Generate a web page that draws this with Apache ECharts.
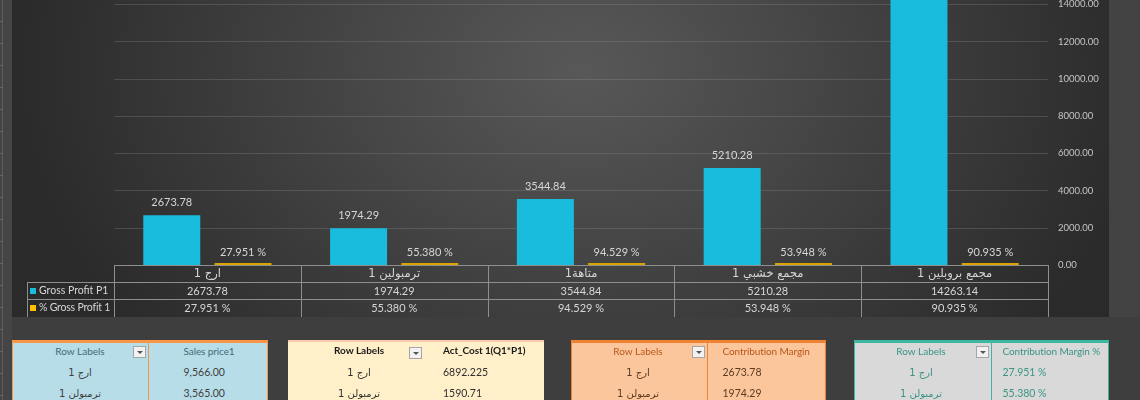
<!DOCTYPE html>
<html>
<head>
<meta charset="utf-8">
<script src="https://cdn.jsdelivr.net/npm/echarts@6/dist/echarts.min.js"></script>
<style>
body{margin:0;width:1140px;height:400px;background:#3e3e3e;overflow:hidden;position:relative;font-family:Lato,"DejaVu Sans",sans-serif}
#strip{position:absolute;left:0;top:0;width:12px;height:400px;background:#454545}
#strip .ln{position:absolute;left:2px;top:0;width:1px;height:400px;background:#5e5e5e}
#strip .tk{position:absolute;left:0;top:0;width:3px;height:400px;background:repeating-linear-gradient(to bottom,transparent 0,transparent 21px,#666 21px,#666 22px)}
#rside{position:absolute;left:1109px;top:0;width:31px;height:317px;background:#434343}
#plotbg{position:absolute;left:12px;top:0;width:1097px;height:317px;
  background:radial-gradient(ellipse 570px 430px at 570px 70px,#585858 0%,#464646 40%,#2a2a2a 100%)}
#main{position:absolute;left:0;top:0;width:1140px;height:400px}
.hl{position:absolute;height:1px;background:#8e8e8e;z-index:5}
.vl{position:absolute;width:1px;background:#8e8e8e;z-index:5}
.cell{position:absolute;height:17px;line-height:17px;text-align:center;color:#d6d6d6;font-size:11px;z-index:6;white-space:nowrap}
.key{position:absolute;width:6px;height:6px;z-index:6}
.pv{position:absolute;overflow:hidden;z-index:6;font-size:10px}
.pv .t{position:absolute;white-space:nowrap;line-height:21px;height:21px}
.dd{position:absolute;width:13px;height:12px;background:#f2f2f2;border:1px solid #a6a6a6;box-sizing:border-box}
.dd:after{content:"";position:absolute;left:3px;top:4px;border-left:3px solid transparent;border-right:3px solid transparent;border-top:3px solid #555}
</style>
</head>
<body>
<div id="strip"><div class="ln"></div><div class="tk"></div></div>
<div id="plotbg"></div>
<div id="rside"></div>
<div id="main"></div>
<script>
// chart data
var categories = ['ارج 1', 'ترمبولين 1', 'متاهة1', 'مجمع خشبي 1', 'مجمع بروبلين 1'];
var grossProfit = [2673.78, 1974.29, 3544.84, 5210.28, 14263.14];
var grossPct = [0.27951, 0.55380, 0.94529, 0.53948, 0.90935];
var seriesNames = ['Gross Profit P1', '% Gross Profit 1'];
var seriesColors = ['#19BCDC', '#FFC000'];

// pivot tables data
var pivotRows = ['ارج 1', 'ترمبولن 1'];
var salesPrice = ['9,566.00', '3,565.00'];
var actCost = ['6892.225', '1590.71'];
var contribution = ['2673.78', '1974.29'];
var contributionPct = ['27.951 %', '55.380 %'];

function pct(v) { return (v * 100).toFixed(3) + ' %'; }

var myChart = echarts.init(document.getElementById('main'));
var option = {
    animation: false,
    backgroundColor: 'transparent',
    textStyle: { fontFamily: 'Lato, "DejaVu Sans", sans-serif' },
    grid: { left: 114, right: 92, top: -33, bottom: 135, outerBoundsMode: 'none' },
    xAxis: {
        type: 'category',
        data: categories,
        axisLine: { show: false },
        axisTick: { show: false },
        axisLabel: { show: false }
    },
    yAxis: {
        type: 'value',
        position: 'right',
        min: 0,
        max: 16000,
        interval: 2000,
        axisLine: { show: false },
        axisTick: { show: false },
        axisLabel: {
            color: '#c4c4c4',
            fontSize: 9.5,
            margin: 10,
            formatter: function (v) { return v.toFixed(2); }
        },
        splitLine: { lineStyle: { color: 'rgba(150,150,150,0.28)', width: 1 } }
    },
    series: [
        {
            name: seriesNames[0],
            type: 'bar',
            data: grossProfit,
            barWidth: 57,
            barGap: '25%',
            itemStyle: { color: seriesColors[0] },
            label: {
                show: true,
                position: 'top',
                distance: 7,
                color: '#d6d6d6',
                fontSize: 11,
                formatter: function (p) { return p.value.toFixed(2); }
            }
        },
        {
            name: seriesNames[1],
            type: 'bar',
            data: grossPct,
            barWidth: 57,
            barMinHeight: 2,
            itemStyle: { color: '#D9A400' },
            label: {
                show: true,
                position: 'top',
                distance: 5,
                color: '#d6d6d6',
                fontSize: 11,
                formatter: function (p) { return pct(p.value); }
            }
        }
    ]
};
myChart.setOption(option);

// data table under the plot
function add(cls, css, text) {
    var d = document.createElement('div');
    d.className = cls;
    d.style.cssText = css;
    if (text !== undefined) d.textContent = text;
    document.body.appendChild(d);
    return d;
}
var tLeft = 114, tRight = 1048, colW = (tRight - tLeft) / categories.length;
add('hl', 'left:' + tLeft + 'px;top:265px;width:' + (tRight - tLeft) + 'px');
add('hl', 'left:27px;top:282px;width:' + (tRight - 27) + 'px');
add('hl', 'left:27px;top:299px;width:' + (tRight - 27) + 'px');
add('vl', 'left:27px;top:282px;height:35px');
for (var i = 0; i <= categories.length; i++) {
    add('vl', 'left:' + Math.round(tLeft + i * colW) + 'px;top:265px;height:52px');
}
for (var i = 0; i < categories.length; i++) {
    var x = tLeft + i * colW;
    add('cell', 'left:' + x + 'px;top:265px;width:' + colW + 'px;font-family:"DejaVu Sans",sans-serif;font-size:11.5px', categories[i]);
    add('cell', 'left:' + x + 'px;top:282px;width:' + colW + 'px', grossProfit[i].toFixed(2));
    add('cell', 'left:' + x + 'px;top:299px;width:' + colW + 'px', pct(grossPct[i]));
}
add('key', 'left:30px;top:288px;background:' + seriesColors[0]);
add('key', 'left:30px;top:305px;background:' + seriesColors[1]);
add('cell', 'left:39px;top:282px;text-align:left;font-size:10.5px', seriesNames[0]);
add('cell', 'left:39px;top:299px;text-align:left;font-size:10.5px;letter-spacing:-0.2px', seriesNames[1]);

// pivot tables
function pivot(cfg, values) {
    var w = cfg.right - cfg.left;
    var box = add('pv', 'left:' + cfg.left + 'px;top:340px;width:' + w + 'px;height:62px;background:' + cfg.fill +
        (cfg.border ? ';border:1.5px solid ' + cfg.border + ';box-sizing:border-box' : ''));
    var inner = function (css, text, cls) {
        var d = document.createElement('div');
        d.className = cls || 't';
        d.style.cssText = css;
        if (text !== undefined) d.textContent = text;
        box.appendChild(d);
        return d;
    };
    var off = cfg.border ? 1.5 : 0;
    var split = cfg.split - cfg.left - off;
    inner('left:0;top:21px;width:' + w + 'px;height:1.5px;background:' + cfg.line, undefined, 'x');
    if (cfg.border) inner('position:absolute;left:' + split + 'px;top:0;width:1.5px;height:70px;background:' + cfg.border, undefined, 'x');
    var hdr = 'color:' + cfg.head + (cfg.bold ? ';font-weight:bold' : '');
    inner('left:0;top:0;width:' + (cfg.labelC * 2) + 'px;text-align:center;' + hdr, 'Row Labels');
    inner('left:' + (cfg.valX - cfg.left - off) + 'px;top:0;letter-spacing:-0.1px;' + hdr, cfg.title);
    var dd = document.createElement('div');
    dd.className = 'dd';
    dd.style.cssText = 'left:' + (cfg.ddX - cfg.left - off) + 'px;top:' + (6.5 - off) + 'px';
    box.appendChild(dd);
    for (var r = 0; r < pivotRows.length; r++) {
        var y = 22 + r * 21 - off;
        inner('left:0;top:' + y + 'px;width:' + (cfg.labelC * 2) + 'px;text-align:center;color:' + cfg.text +
            ';font-family:"DejaVu Sans",sans-serif;font-size:10px', pivotRows[r]);
        inner('left:' + (cfg.valX - cfg.left - off) + 'px;top:' + y + 'px;font-size:10.5px;color:' + cfg.text, values[r]);
    }
}
pivot({ left: 12, right: 268, split: 148, fill: '#B7DEE8', border: '#F79646', line: '#F79646', head: '#3F6A78', text: '#404040',
        labelC: 67, valX: 184, ddX: 133, title: 'Sales price1' }, salesPrice);
pivot({ left: 288, right: 544, split: 0, fill: '#FFF0CA', border: null, line: '#F8CBAD', head: '#1a1a1a', text: '#303030', bold: true,
        labelC: 71, valX: 443, ddX: 409, title: 'Act_Cost 1(Q1*P1)' }, actCost);
pivot({ left: 571, right: 826, split: 707, fill: '#FCC69C', border: '#EE8433', line: '#EE8433', head: '#B8561A', text: '#5a3a20',
        labelC: 66, valX: 723, ddX: 692, title: 'Contribution Margin' }, contribution);
pivot({ left: 854, right: 1109, split: 991, fill: '#D9D9D9', border: '#3DB8A0', line: '#3DB8A0', head: '#3A9484', text: '#3A9484',
        labelC: 66, valX: 1003, ddX: 976, title: 'Contribution Margin %' }, contributionPct);
</script>
</body>
</html>
